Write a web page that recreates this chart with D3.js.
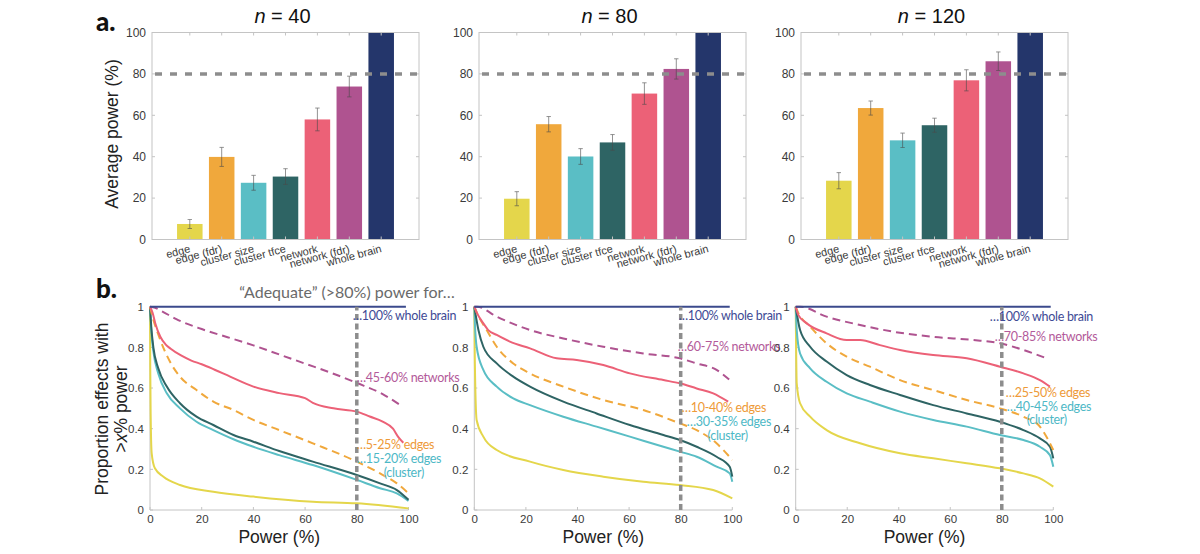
<!DOCTYPE html>
<meta charset="utf-8">
<body style="margin:0;background:#fff">
<script src="https://d3js.org/d3.v7.min.js"></script>
<script>

// ---- data: panel a (average power, %) ----
var categories = ['edge', 'edge (fdr)', 'cluster size', 'cluster tfce', 'network', 'network (fdr)', 'whole brain'];
var sampleSizes = [40, 80, 120];
var powerN40 = [7.5, 39.9, 27.4, 30.4, 58.0, 73.9, 100];
var errN40 = [2.2, 4.6, 3.6, 3.8, 5.5, 5.0, 0];
var powerN80 = [19.7, 55.7, 40.1, 46.9, 70.5, 82.4, 100];
var errN80 = [3.4, 3.7, 3.8, 3.8, 5.2, 4.9, 0];
var powerN120 = [28.4, 63.5, 47.9, 55.2, 76.9, 86.1, 100];
var errN120 = [3.9, 3.4, 3.5, 3.4, 5.1, 4.5, 0];
var yTicksA = [0, 20, 40, 60, 80, 100];
var adequate = 80;

// ---- data: panel b (proportion of effects with > x% power), [power, proportion] ----
var edgeN40 = [[0,1],[0.1,0.7],[0.25,0.475],[0.65,0.279],[1.9,0.205],[5.2,0.164],[11.6,0.123],[24.5,0.09],[40,0.066],[63,0.041],[80,0.033],[100,0.008]];
var sizeN40 = [[0,1],[0.5,0.88],[1.3,0.78],[3.2,0.672],[6.5,0.574],[11.6,0.5],[18,0.434],[24.5,0.393],[32.3,0.348],[40,0.311],[50,0.27],[63,0.221],[80,0.148],[89,0.107],[95.5,0.082],[100,0.045]];
var tfceN40 = [[0,1],[0.5,0.9],[1.3,0.8],[3.2,0.697],[6.5,0.607],[11.6,0.525],[18,0.459],[24.5,0.418],[32.3,0.369],[40,0.336],[50,0.29],[63,0.238],[80,0.172],[89,0.131],[95.5,0.098],[100,0.05]];
var fdrN40 = [[0,1],[1,0.95],[4,0.836],[7.7,0.73],[11.6,0.656],[18,0.59],[24.5,0.533],[32.3,0.492],[40,0.443],[50,0.393],[63,0.328],[80,0.238],[89,0.18],[95.5,0.131],[100,0.082]];
var networkN40 = [[0,1],[1,0.97],[2,0.92],[4,0.852],[6,0.815],[8,0.793],[12,0.76],[16,0.735],[20,0.717],[25,0.69],[31,0.656],[40,0.607],[50,0.575],[60,0.55],[63,0.527],[71,0.5],[80,0.484],[85,0.46],[90,0.435],[94,0.4],[96,0.36],[98,0.331]];
var netFdrN40 = [[0,1],[2,0.995],[5,0.975],[10,0.94],[20,0.89],[30,0.85],[40,0.81],[50,0.765],[60,0.72],[70,0.675],[80,0.625],[90,0.57],[97,0.515]];
var brainN40 = [[0,1],[99,1]];

var edgeN80 = [[0,1],[0.2,0.74],[0.9,0.443],[3.5,0.361],[8.7,0.295],[21.6,0.238],[34.5,0.197],[50,0.164],[65.5,0.139],[79.7,0.123],[92.6,0.098],[100,0.057]];
var sizeN80 = [[0,1],[0.3,0.9],[0.9,0.803],[3.5,0.689],[8.7,0.607],[15.1,0.549],[21.6,0.516],[34.5,0.459],[47.4,0.41],[60.3,0.361],[73.3,0.311],[79.7,0.287],[86.2,0.262],[93.9,0.213],[99,0.18],[100,0.139]];
var tfceN80 = [[0,1],[1.6,0.885],[3.5,0.803],[8.7,0.721],[15.1,0.656],[21.6,0.607],[34.5,0.533],[47.4,0.475],[60.3,0.418],[73.3,0.369],[79.7,0.344],[86.2,0.311],[93.9,0.262],[99,0.213],[100,0.164]];
var fdrN80 = [[0,1],[1,0.97],[4.8,0.885],[8.7,0.803],[15.1,0.721],[21.6,0.672],[34.5,0.607],[50,0.541],[65.5,0.492],[79.7,0.426],[86.2,0.393],[93.9,0.328],[100,0.246]];
var networkN80 = [[0,1],[1,0.97],[3.5,0.918],[5.4,0.885],[8.7,0.861],[13.8,0.828],[21.6,0.795],[31.9,0.746],[39.7,0.738],[50,0.713],[60.3,0.672],[73.3,0.639],[79.7,0.623],[86.2,0.598],[92.6,0.574],[98.4,0.533]];
var netFdrN80 = [[0,1],[1,1],[8.7,0.951],[21.6,0.885],[34.5,0.844],[50,0.803],[65.5,0.77],[79.7,0.746],[86.2,0.721],[93.9,0.689],[99,0.639]];
var brainN80 = [[0,1],[99,1]];

var edgeN120 = [[0,1],[0.4,0.623],[1.7,0.525],[5.6,0.459],[12,0.393],[25,0.328],[40.5,0.279],[53.4,0.254],[66.4,0.23],[79.3,0.205],[88.4,0.18],[94.8,0.156],[100,0.115]];
var sizeN120 = [[0,1],[0.4,0.885],[1.7,0.77],[5.6,0.697],[12,0.631],[19.8,0.574],[28.8,0.533],[40.5,0.484],[53.4,0.443],[66.4,0.41],[79.3,0.369],[88.4,0.344],[94.8,0.311],[98.7,0.27],[100,0.213]];
var tfceN120 = [[0,1],[1.7,0.885],[5.6,0.803],[12,0.73],[19.8,0.664],[28.8,0.615],[40.5,0.566],[53.4,0.516],[66.4,0.475],[79.3,0.434],[88.4,0.393],[94.8,0.352],[98.7,0.311],[100,0.254]];
var fdrN120 = [[0,1],[1,0.97],[5.6,0.902],[12,0.82],[19.8,0.754],[28.8,0.705],[40.5,0.639],[53.4,0.59],[66.4,0.541],[79.3,0.5],[88.4,0.459],[94.8,0.41],[100,0.295]];
var networkN120 = [[0,1],[1,0.96],[4.3,0.918],[12,0.869],[19.8,0.836],[25,0.836],[32.7,0.811],[40.5,0.787],[53.4,0.762],[66.4,0.746],[79.3,0.705],[88.4,0.672],[94.8,0.639],[98.7,0.607]];
var netFdrN120 = [[0,1],[1.7,1],[12,0.951],[25,0.91],[37.9,0.877],[53.4,0.852],[69,0.836],[79.3,0.82],[88.4,0.787],[97.4,0.746]];
var brainN120 = [[0,1],[99,1]];

var xTicksB = [0, 20, 40, 60, 80, 100];
var yTicksB = [0, 0.2, 0.4, 0.6, 0.8, 1];

var notesN40 = ['\u2026100% whole brain', '\u202645-60% networks', '\u20265-25% edges', '\u202615-20% edges', '(cluster)'];
var notesN80 = ['\u2026100% whole brain', '\u202660-75% networks', '\u202610-40% edges', '\u202630-35% edges', '(cluster)'];
var notesN120 = ['\u2026100% whole brain', '\u202670-85% networks', '\u202625-50% edges', '\u202640-45% edges', '(cluster)'];

// ---- styling ----
var barColors = ['#E4D64B', '#F0A83C', '#5ABEC5', '#2E6464', '#EC6177', '#AF5390', '#24366B'];
var axisGray = '#c4c4c4', tickText = '#3a3a3a', refGray = '#8d8d8d';
var mFont = '"Liberation Sans", Arial, Helvetica, sans-serif';
var aFont = 'Lato, "Open Sans", sans-serif';

var width = 1200, height = 554;
var svg = d3.select('body').append('svg')
    .attr('width', width).attr('height', height)
    .style('display', 'block');

// ---------------- panel a ----------------
var barSets = [
    { n: sampleSizes[0], vals: powerN40, errs: errN40, x0: 152, x1: 419 },
    { n: sampleSizes[1], vals: powerN80, errs: errN80, x0: 479, x1: 746 },
    { n: sampleSizes[2], vals: powerN120, errs: errN120, x0: 801, x1: 1068 }
];
var aTop = 32.5, aBottom = 239.5;

barSets.forEach(function(p, pi) {
    var x = d3.scaleBand().domain(categories).range([p.x0, p.x1]).paddingInner(0.2).paddingOuter(0.785);
    var y = d3.scaleLinear().domain([0, 100]).range([aBottom, aTop]);
    var g = svg.append('g');

    g.selectAll('rect.bar').data(p.vals).enter().append('rect')
        .attr('x', function(d, i) { return x(categories[i]); })
        .attr('y', function(d) { return y(d); })
        .attr('width', x.bandwidth())
        .attr('height', function(d) { return y(0) - y(d); })
        .attr('fill', function(d, i) { return barColors[i]; });

    // error bars
    p.vals.forEach(function(v, i) {
        var e = p.errs[i];
        if (!e) return;
        var cx = x(categories[i]) + x.bandwidth() / 2;
        var eg = g.append('g').attr('stroke', '#4a4a4a').attr('stroke-width', 0.8).attr('opacity', 0.75);
        eg.append('line').attr('x1', cx).attr('x2', cx).attr('y1', y(v - e)).attr('y2', y(v + e));
        eg.append('line').attr('x1', cx - 2.2).attr('x2', cx + 2.2).attr('y1', y(v - e)).attr('y2', y(v - e));
        eg.append('line').attr('x1', cx - 2.2).attr('x2', cx + 2.2).attr('y1', y(v + e)).attr('y2', y(v + e));
    });

    // box
    g.append('rect').attr('x', p.x0).attr('y', aTop).attr('width', p.x1 - p.x0).attr('height', aBottom - aTop)
        .attr('fill', 'none').attr('stroke', axisGray).attr('stroke-width', 1);

    // ticks
    yTicksA.forEach(function(t) {
        g.append('line').attr('x1', p.x0).attr('x2', p.x0 + 3).attr('y1', y(t)).attr('y2', y(t)).attr('stroke', axisGray);
        g.append('line').attr('x1', p.x1).attr('x2', p.x1 - 3).attr('y1', y(t)).attr('y2', y(t)).attr('stroke', axisGray);
    });
    categories.forEach(function(c) {
        var cx = x(c) + x.bandwidth() / 2;
        g.append('line').attr('x1', cx).attr('x2', cx).attr('y1', aBottom).attr('y2', aBottom - 3).attr('stroke', axisGray);
        g.append('line').attr('x1', cx).attr('x2', cx).attr('y1', aTop).attr('y2', aTop + 3).attr('stroke', axisGray);
    });

    var yAxis = g.append('g').attr('transform', 'translate(' + p.x0 + ',0)')
        .call(d3.axisLeft(y).tickValues(yTicksA).tickSize(0).tickPadding(6));
    yAxis.select('.domain').remove();
    yAxis.selectAll('text').attr('font-family', mFont).attr('font-size', 12).attr('fill', tickText);

    // rotated category labels
    g.selectAll('text.cat').data(categories).enter().append('text')
        .attr('class', 'cat')
        .attr('transform', function(d) { return 'translate(' + (x(d) + x.bandwidth() / 2 + 1) + ',' + 252 + ') rotate(-15)'; })
        .attr('text-anchor', 'end')
        .attr('font-family', mFont).attr('font-size', 11).attr('fill', tickText)
        .text(function(d) { return d; });

    // 80% reference
    g.append('line').attr('x1', p.x0 + 3).attr('x2', p.x1).attr('y1', y(adequate)).attr('y2', y(adequate))
        .attr('stroke', refGray).attr('stroke-width', 3.5).attr('stroke-dasharray', '7,8');

    // title
    var t = g.append('text').attr('x', (p.x0 + p.x1) / 2 - 3).attr('y', 23)
        .attr('text-anchor', 'middle').attr('font-family', mFont).attr('font-size', 20).attr('fill', '#111');
    t.append('tspan').attr('font-style', 'italic').text('n');
    t.append('tspan').text(' = ' + p.n);
});

svg.append('text').attr('transform', 'translate(118,134) rotate(-90)')
    .attr('text-anchor', 'middle').attr('font-family', mFont).attr('font-size', 17.5).attr('fill', '#222')
    .text('Average power (%)');

svg.append('text').attr('x', 96).attr('y', 31).attr('font-family', aFont).attr('font-weight', 900)
    .attr('font-size', 26).attr('fill', '#111').text('a.');

// ---------------- panel b ----------------
var methodOrder = [
    { key: 'edge', color: barColors[0], dash: null },
    { key: 'size', color: barColors[2], dash: null },
    { key: 'tfce', color: barColors[3], dash: null },
    { key: 'fdr', color: barColors[1], dash: '8,5' },
    { key: 'network', color: barColors[4], dash: null },
    { key: 'netFdr', color: barColors[5], dash: '8,5' },
    { key: 'brain', color: '#3B4A8C', dash: null }
];
var curveSets = [
    { x0: 150, x1: 408.5, notes: notesN40,
      series: { edge: edgeN40, size: sizeN40, tfce: tfceN40, fdr: fdrN40, network: networkN40, netFdr: netFdrN40, brain: brainN40 },
      noteX: [-4, 0, 0, 0, 47], noteY: [320, 382, 449, 463, 477] },
    { x0: 474.3, x1: 732.3, notes: notesN80,
      series: { edge: edgeN80, size: sizeN80, tfce: tfceN80, fdr: fdrN80, network: networkN80, netFdr: netFdrN80, brain: brainN80 },
      noteX: [-2, -3, 1, 6, 47], noteY: [320, 351, 412, 426, 440] },
    { x0: 795.7, x1: 1053.3, notes: notesN120,
      series: { edge: edgeN120, size: sizeN120, tfce: tfceN120, fdr: fdrN120, network: networkN120, netFdr: netFdrN120, brain: brainN120 },
      noteX: [-12, -7, 4, 5, 45], noteY: [321, 341, 397, 411, 424] }
];
var noteColors = ['#3E4A95', '#B35A9A', '#EE9A38', '#4DB8C6', '#4DB8C6'];
var bTop = 306.7, bBottom = 510;

curveSets.forEach(function(p) {
    var x = d3.scaleLinear().domain([0, 100]).range([p.x0, p.x1]);
    var y = d3.scaleLinear().domain([0, 1]).range([bBottom, bTop]);
    var g = svg.append('g');

    // axes
    g.append('line').attr('x1', p.x0).attr('x2', p.x0).attr('y1', bTop).attr('y2', bBottom).attr('stroke', axisGray);
    g.append('line').attr('x1', p.x0).attr('x2', p.x1).attr('y1', bBottom).attr('y2', bBottom).attr('stroke', axisGray);
    xTicksB.forEach(function(t) {
        g.append('line').attr('x1', x(t)).attr('x2', x(t)).attr('y1', bBottom).attr('y2', bBottom - 3).attr('stroke', axisGray);
    });
    yTicksB.forEach(function(t) {
        g.append('line').attr('x1', p.x0).attr('x2', p.x0 + 3).attr('y1', y(t)).attr('y2', y(t)).attr('stroke', axisGray);
    });
    var xa = g.append('g').attr('transform', 'translate(0,' + bBottom + ')')
        .call(d3.axisBottom(x).tickValues(xTicksB).tickSize(0).tickPadding(5));
    xa.select('.domain').remove();
    xa.selectAll('text').attr('font-family', mFont).attr('font-size', 11.5).attr('fill', tickText);
    var ya = g.append('g').attr('transform', 'translate(' + p.x0 + ',0)')
        .call(d3.axisLeft(y).tickValues(yTicksB).tickSize(0).tickPadding(6).tickFormat(d3.format('~g')));
    ya.select('.domain').remove();
    ya.selectAll('text').attr('font-family', mFont).attr('font-size', 11.5).attr('fill', tickText);

    var line = d3.line().x(function(d) { return x(d[0]); }).y(function(d) { return y(d[1]); })
        .curve(d3.curveMonotoneX);

    methodOrder.forEach(function(m) {
        g.append('path').datum(p.series[m.key])
            .attr('d', line)
            .attr('fill', 'none')
            .attr('stroke', m.color)
            .attr('stroke-width', 2)
            .attr('stroke-dasharray', m.dash);
    });

    // 80% power line
    g.append('line').attr('x1', x(adequate)).attr('x2', x(adequate)).attr('y1', y(0)).attr('y2', y(1))
        .attr('stroke', refGray).attr('stroke-width', 3.5).attr('stroke-dasharray', '6,3.5');

    // annotations
    p.notes.forEach(function(s, i) {
        g.append('text')
            .attr('x', x(adequate) + p.noteX[i])
            .attr('y', p.noteY[i])
            .attr('text-anchor', i === 4 ? 'middle' : 'start')
            .attr('font-family', aFont).attr('font-size', 12.5).attr('letter-spacing', -0.3)
            .attr('fill', noteColors[i])
            .text(s);
    });

    g.append('text').attr('x', (p.x0 + p.x1) / 2).attr('y', 543)
        .attr('text-anchor', 'middle').attr('font-family', mFont).attr('font-size', 17.5).attr('fill', '#222')
        .text('Power (%)');
});

var yl = svg.append('text').attr('transform', 'translate(0,409) rotate(-90)')
    .attr('text-anchor', 'middle').attr('font-family', mFont).attr('font-size', 17.5).attr('fill', '#222');
yl.append('tspan').attr('x', 0).attr('y', 108).text('Proportion effects with');
var l2 = yl.append('tspan').attr('x', 0).attr('y', 127);
l2.append('tspan').text('>');
l2.append('tspan').attr('font-style', 'italic').text('x');
l2.append('tspan').text('% power');

svg.append('text').attr('x', 347).attr('y', 298).attr('text-anchor', 'middle')
    .attr('font-family', aFont).attr('font-size', 16).attr('fill', '#6a6a6a')
    .text('\u201cAdequate\u201d (>80%) power for\u2026');

svg.append('text').attr('x', 96).attr('y', 298).attr('font-family', aFont).attr('font-weight', 900)
    .attr('font-size', 26).attr('fill', '#111').text('b.');

</script>
</body>
